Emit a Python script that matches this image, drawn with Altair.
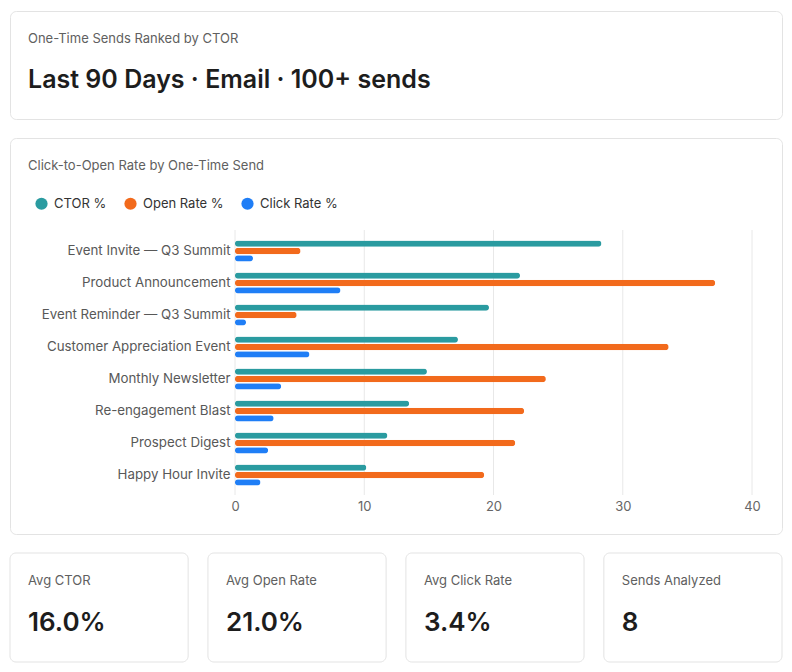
import altair as alt
import pandas as pd

# ---------------- data ----------------
sends = [
    "Event Invite — Q3 Summit",
    "Product Announcement",
    "Event Reminder — Q3 Summit",
    "Customer Appreciation Event",
    "Monthly Newsletter",
    "Re-engagement Blast",
    "Prospect Digest",
    "Happy Hour Invite",
]
ctor = [28.35, 22.05, 19.65, 17.25, 14.85, 13.47, 11.79, 10.16]
open_rate = [5.07, 37.15, 4.77, 33.55, 24.05, 22.37, 21.68, 19.28]
click_rate = [1.39, 8.16, 0.85, 5.76, 3.57, 2.99, 2.56, 1.97]
series = ["CTOR %", "Open Rate %", "Click Rate %"]
colors = ["#2a9ba0", "#f26a1c", "#1f7ef6"]
x_ticks = [0, 10, 20, 30, 40]

header_label = "One-Time Sends Ranked by CTOR"
header_value = "Last 90 Days · Email · 100+ sends"
chart_title = "Click-to-Open Rate by One-Time Send"
kpi_labels = ["Avg CTOR", "Avg Open Rate", "Avg Click Rate", "Sends Analyzed"]
kpi_values = ["16.0%", "21.0%", "3.4%", "8"]

FONT = "Inter"
LABEL_COLOR = "#606060"
VALUE_COLOR = "#1d1d1d"
BORDER = "#e3e3e3"

# ---------------- header card ----------------
hdf = pd.DataFrame({"label": [header_label], "value": [header_value]})
hbase = alt.Chart(hdf)
header = alt.layer(
    hbase.mark_text(align="left", baseline="middle", fontSize=13,
                    color=LABEL_COLOR, font=FONT
                    ).encode(x=alt.value(18), y=alt.value(28), text="label:N"),
    hbase.mark_text(align="left", baseline="middle", fontSize=25, fontWeight=600,
                    color=VALUE_COLOR, font=FONT
                    ).encode(x=alt.value(18), y=alt.value(69), text="value:N"),
).properties(width=772, height=108)

# ---------------- chart card ----------------
rows = []
for i, s in enumerate(sends):
    for ser, vals in zip(series, [ctor, open_rate, click_rate]):
        rows.append({"send": s, "series": ser, "value": vals[i]})
df = pd.DataFrame(rows)

x_scale = alt.Scale(domain=[0, 40], range=[225, 742], nice=False)
x_axis = alt.Axis(
    values=x_ticks, grid=False, ticks=False, domain=False, offset=-39,
    labelPadding=5, labelFontSize=13, labelColor="#666", title=None,
    labelFont=FONT, labelFlush=False,
)

grid = alt.Chart(pd.DataFrame({"value": x_ticks})).mark_rule(
    color="#e8e8e8", strokeWidth=1
).encode(
    x=alt.X("value:Q", scale=x_scale, axis=x_axis),
    y=alt.value(92),
    y2=alt.value(357),
)

bars = alt.Chart(df).mark_bar(cornerRadius=3).encode(
    x=alt.X("value:Q", scale=x_scale, axis=x_axis),
    y=alt.Y(
        "send:N",
        sort=sends,
        scale=alt.Scale(range=[97, 353], paddingInner=0.34, paddingOuter=0.17),
        axis=alt.Axis(
            offset=-225, ticks=False, domain=False, labelPadding=5,
            labelFontSize=13.3, labelColor="#585858", title=None, labelFont=FONT,
            labelLimit=260,
        ),
    ),
    yOffset=alt.YOffset("series:N", sort=series, scale=alt.Scale(paddingInner=0.15)),
    color=alt.Color(
        "series:N",
        sort=series,
        scale=alt.Scale(domain=series, range=colors),
        legend=alt.Legend(
            orient="none", legendX=25, legendY=186, direction="horizontal",
            title=None, symbolType="circle", symbolSize=150, symbolStrokeWidth=0,
            labelFontSize=13, labelColor="#333", labelFont=FONT,
            columnPadding=17, labelOffset=6, padding=0,
        ),
    ),
)

title_layer = alt.Chart(pd.DataFrame({"t": [chart_title]})).mark_text(
    align="left", baseline="middle", fontSize=13, color=LABEL_COLOR, font=FONT
).encode(x=alt.value(18), y=alt.value(28), text="t:N")

chart_card = alt.layer(grid, bars, title_layer).properties(width=772, height=396)

# ---------------- KPI row (one view, four cards on a band scale) ----------------
kdf = pd.DataFrame({"kpi": kpi_labels, "value": kpi_values})
k_scale = alt.Scale(domain=kpi_labels, range=[0, 772], paddingInner=0.1, paddingOuter=0)
kbase = alt.Chart(kdf)
cards = kbase.mark_rect(
    cornerRadius=6, fill="white", stroke=BORDER, strokeWidth=1
).encode(
    x=alt.X("kpi:N", sort=kpi_labels, scale=k_scale, axis=None),
    y=alt.value(0),
    y2=alt.value(109),
)
k_label = kbase.mark_text(
    align="left", baseline="middle", dx=18, fontSize=13, color=LABEL_COLOR, font=FONT
).encode(
    x=alt.X("kpi:N", sort=kpi_labels, scale=k_scale, axis=None, bandPosition=0),
    y=alt.value(28),
    text="kpi:N",
)
k_value = kbase.mark_text(
    align="left", baseline="middle", dx=18, fontSize=26, fontWeight=600,
    color=VALUE_COLOR, font=FONT
).encode(
    x=alt.X("kpi:N", sort=kpi_labels, scale=k_scale, axis=None, bandPosition=0),
    y=alt.value(70),
    text="value:N",
)
kpi_row = alt.layer(cards, k_label, k_value).properties(
    width=772, height=109, view=alt.ViewBackground(stroke="transparent", fill="white")
)

chart = alt.vconcat(
    header,
    chart_card,
    kpi_row,
    spacing=19,
    bounds="flush",
).properties(
    padding={"left": 1, "top": 2, "right": 0, "bottom": 0},
    background="white",
).configure_view(
    stroke=BORDER, strokeWidth=1, cornerRadius=6, fill="white"
)

chart.save("out.html", embed_options={"renderer": "svg", "actions": False})
